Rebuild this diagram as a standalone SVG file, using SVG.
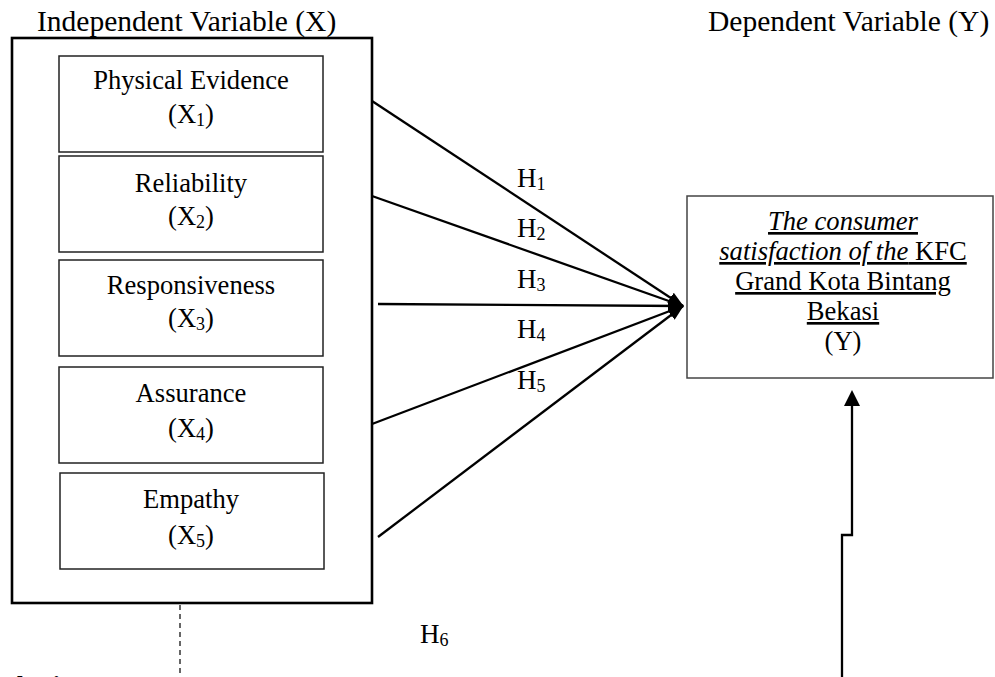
<svg xmlns="http://www.w3.org/2000/svg" width="995" height="677" viewBox="0 0 995 677">
<style>
  text { font-family: "Liberation Serif", "Times New Roman", serif; fill: #000; }
  .title { font-size: 29.5px; }
  .lbl { font-size: 26.6px; text-anchor: middle; }
  .h { font-size: 27px; }
  .sub { font-size: 18px; }
  .ybox { font-size: 26.6px; text-anchor: middle; text-decoration: underline; }
  .inner { fill: #fff; stroke: #222; stroke-width: 1.5; }
  .conn { stroke: #000; stroke-width: 2.3; fill: none; }
</style>
<defs>
  <marker id="arr" markerUnits="userSpaceOnUse" markerWidth="16" markerHeight="12" refX="15" refY="6" orient="auto">
    <path d="M0,0 L16,6 L0,12 Z" fill="#000"/>
  </marker>
</defs>
<rect width="995" height="677" fill="#fff"/>

<text class="title" x="37" y="31">Independent Variable (X)</text>
<text class="title" x="708" y="31">Dependent Variable (Y)</text>

<g id="outer">
  <rect x="12" y="38" width="360" height="565" fill="none" stroke="#000" stroke-width="2.6"/>
</g>

<g id="x1">
  <rect class="inner" x="59" y="56" width="264" height="96"/>
  <text class="lbl" x="191" y="89">Physical Evidence</text>
  <text class="lbl" x="191" y="123">(X<tspan class="sub" dy="3">1</tspan><tspan dy="-3">)</tspan></text>
</g>
<g id="x2">
  <rect class="inner" x="59" y="156" width="264" height="96"/>
  <text class="lbl" x="191" y="192">Reliability</text>
  <text class="lbl" x="191" y="225">(X<tspan class="sub" dy="3">2</tspan><tspan dy="-3">)</tspan></text>
</g>
<g id="x3">
  <rect class="inner" x="59" y="260" width="264" height="96"/>
  <text class="lbl" x="191" y="294">Responsiveness</text>
  <text class="lbl" x="191" y="327">(X<tspan class="sub" dy="3">3</tspan><tspan dy="-3">)</tspan></text>
</g>
<g id="x4">
  <rect class="inner" x="59" y="367" width="264" height="96"/>
  <text class="lbl" x="191" y="402">Assurance</text>
  <text class="lbl" x="191" y="437">(X<tspan class="sub" dy="3">4</tspan><tspan dy="-3">)</tspan></text>
</g>
<g id="x5">
  <rect class="inner" x="60" y="473" width="264" height="96"/>
  <text class="lbl" x="191" y="508">Empathy</text>
  <text class="lbl" x="191" y="544">(X<tspan class="sub" dy="3">5</tspan><tspan dy="-3">)</tspan></text>
</g>

<g id="y">
  <rect x="687" y="196" width="306" height="182" fill="#fff" stroke="#444" stroke-width="1.5"/>
  <text class="ybox" x="843" y="230"><tspan font-style="italic">The consumer</tspan></text>
  <text class="ybox" x="843" y="260"><tspan font-style="italic">satisfaction of the</tspan> KFC</text>
  <text class="ybox" x="843" y="290">Grand Kota Bintang</text>
  <text class="ybox" x="843" y="320">Bekasi</text>
  <text class="lbl" x="843" y="350">(Y)</text>
</g>

<g id="connectors">
  <line class="conn" x1="372" y1="101" x2="683" y2="306" marker-end="url(#arr)"/>
  <line class="conn" x1="372" y1="196" x2="683" y2="306" marker-end="url(#arr)"/>
  <line class="conn" x1="378" y1="304" x2="683" y2="306" marker-end="url(#arr)"/>
  <line class="conn" x1="372" y1="424" x2="683" y2="306" marker-end="url(#arr)"/>
  <line class="conn" x1="378" y1="537" x2="683" y2="306" marker-end="url(#arr)"/>
  <polyline class="conn" points="842,677 842,535 852,535 852,404"/>
  <path d="M852,390 L860,406 L844,406 Z" fill="#000"/>
  <line x1="180" y1="605" x2="180" y2="677" stroke="#000" stroke-width="1.2" stroke-dasharray="5,4"/>
</g>

<g id="labels">
  <text class="h" x="517" y="187">H<tspan class="sub" dy="3">1</tspan></text>
  <text class="h" x="517" y="237">H<tspan class="sub" dy="3">2</tspan></text>
  <text class="h" x="517" y="288">H<tspan class="sub" dy="3">3</tspan></text>
  <text class="h" x="517" y="338">H<tspan class="sub" dy="3">4</tspan></text>
  <text class="h" x="517" y="389">H<tspan class="sub" dy="3">5</tspan></text>
  <text class="h" x="420" y="643">H<tspan class="sub" dy="3">6</tspan></text>
</g>

<text x="8" y="694" font-size="26" font-weight="bold">thesis</text>
</svg>
